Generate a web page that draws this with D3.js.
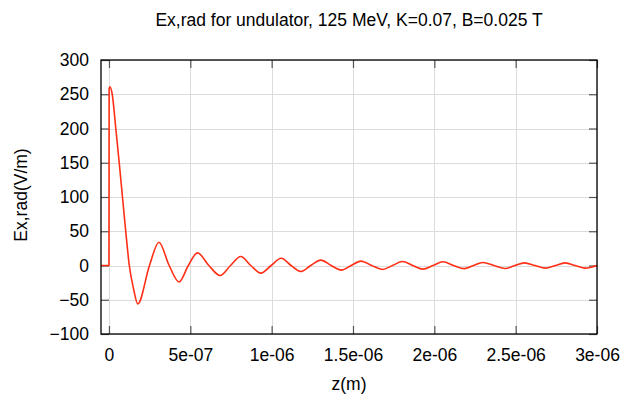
<!DOCTYPE html>
<html>
<head>
<meta charset="utf-8">
<script src="https://cdn.jsdelivr.net/npm/d3@7"></script>
<style>
  html, body { margin: 0; padding: 0; background: #fff; }
  svg { display: block; font-family: "Liberation Sans", Arial, Helvetica, sans-serif; }
</style>
</head>
<body>
<svg id="chart" width="627" height="409"></svg>
<script>
// Radiated field Ex along z (metres) and its value (V/m)
const zValues = [
  -0.049e-6, 0, 0.001e-6, 0.006e-6, 0.020e-6, 0.042e-6, 0.063e-6, 0.083e-6, 0.103e-6,
  0.125e-6, 0.152e-6, 0.177e-6, 0.249e-6, 0.307e-6, 0.370e-6, 0.431e-6, 0.488e-6,
  0.544e-6, 0.614e-6, 0.683e-6, 0.747e-6, 0.810e-6, 0.872e-6, 0.934e-6, 0.997e-6,
  1.059e-6, 1.119e-6, 1.178e-6, 1.240e-6, 1.302e-6, 1.366e-6, 1.429e-6, 1.489e-6,
  1.548e-6, 1.615e-6, 1.681e-6, 1.743e-6, 1.804e-6, 1.867e-6, 1.930e-6, 1.992e-6,
  2.053e-6, 2.119e-6, 2.184e-6, 2.241e-6, 2.298e-6, 2.367e-6, 2.436e-6, 2.495e-6,
  2.554e-6, 2.619e-6, 2.683e-6, 2.744e-6, 2.804e-6, 2.866e-6, 2.928e-6, 3.0e-6
];
const exValues = [
  0, 0, 258, 261, 250, 200, 150, 100, 50,
  0, -35, -56, 0, 34, 0, -24, 0,
  18.5, 0, -14.6, 0, 13.1, 0, -11.1, 0,
  10.5, 0, -8.7, 0, 7.9, 0, -6.7, 0,
  6.4, 0, -5.8, 0, 5.8, 0, -5.3, 0,
  5.4, 0, -4.6, 0, 4.4, 0, -4.4, 0,
  3.9, 0, -3.8, 0, 3.9, 0, -3.8, 0
];
const xTicks = [0, 5e-7, 1e-6, 1.5e-6, 2e-6, 2.5e-6, 3e-6];
const xTickLabels = ["0", "5e-07", "1e-06", "1.5e-06", "2e-06", "2.5e-06", "3e-06"];
const yTicks = [-100, -50, 0, 50, 100, 150, 200, 250, 300];

const svg = d3.select("#chart");
const plotLeft = 101, plotRight = 597, plotTop = 60, plotBottom = 334;
const fontSize = 17.5;

const x = d3.scaleLinear().domain([-0.049e-6, 3e-6]).range([plotLeft, plotRight]);
const y = d3.scaleLinear().domain([-100, 300]).range([plotBottom, plotTop]);

// grid
const grid = svg.append("g").attr("stroke", "#dcdcdc").attr("stroke-width", 1);
grid.selectAll("line.gx").data(xTicks).join("line")
  .attr("x1", d => Math.round(x(d)) + 0.5).attr("x2", d => Math.round(x(d)) + 0.5)
  .attr("y1", plotTop).attr("y2", plotBottom);
grid.selectAll("line.gy").data(yTicks).join("line")
  .attr("y1", d => Math.round(y(d)) + 0.5).attr("y2", d => Math.round(y(d)) + 0.5)
  .attr("x1", plotLeft).attr("x2", plotRight);

// axes with inward ticks on all four sides
const tickLen = 8;
const axes = svg.append("g");
axes.append("g").attr("transform", `translate(0,${plotBottom})`)
  .call(d3.axisBottom(x).tickValues(xTicks).tickSizeInner(-tickLen).tickSizeOuter(0)
    .tickFormat((d, i) => xTickLabels[i]).tickPadding(15))
  .call(g => g.select(".domain").remove());
axes.append("g").attr("transform", `translate(0,${plotTop})`)
  .call(d3.axisTop(x).tickValues(xTicks).tickSizeInner(-tickLen).tickSizeOuter(0).tickFormat(""))
  .call(g => g.select(".domain").remove());
axes.append("g").attr("transform", `translate(${plotLeft},0)`)
  .call(d3.axisLeft(y).tickValues(yTicks).tickSizeInner(-tickLen).tickSizeOuter(0).tickPadding(12))
  .call(g => g.select(".domain").remove());
axes.append("g").attr("transform", `translate(${plotRight},0)`)
  .call(d3.axisRight(y).tickValues(yTicks).tickSizeInner(-tickLen).tickSizeOuter(0).tickFormat(""))
  .call(g => g.select(".domain").remove());
axes.selectAll(".tick line").attr("stroke", "#555").attr("stroke-width", 1.2);
axes.selectAll(".tick text").attr("font-size", fontSize).attr("fill", "#000")
  .attr("font-family", "Liberation Sans, Arial, sans-serif");

// data curve
const pts = zValues.map((z, i) => [z, exValues[i]]);
const line = d3.line().x(d => x(d[0])).y(d => y(d[1])).curve(d3.curveMonotoneX);
svg.append("path").datum(pts)
  .attr("fill", "none").attr("stroke", "#ff2f16").attr("stroke-width", 1.6)
  .attr("stroke-linejoin", "round").attr("d", line);

// frame
svg.append("rect").attr("x", plotLeft).attr("y", plotTop)
  .attr("width", plotRight - plotLeft).attr("height", plotBottom - plotTop)
  .attr("fill", "none").attr("stroke", "#000").attr("stroke-width", 1.3);

// labels
svg.append("text").attr("x", 349).attr("y", 26).attr("text-anchor", "middle")
  .attr("font-size", fontSize).text("Ex,rad for undulator, 125 MeV, K=0.07, B=0.025 T");
svg.append("text").attr("x", 349).attr("y", 390).attr("text-anchor", "middle")
  .attr("font-size", fontSize).text("z(m)");
svg.append("text").attr("transform", "translate(27,195) rotate(-90)")
  .attr("text-anchor", "middle").attr("font-size", fontSize).text("Ex,rad(V/m)");
</script>
</body>
</html>
